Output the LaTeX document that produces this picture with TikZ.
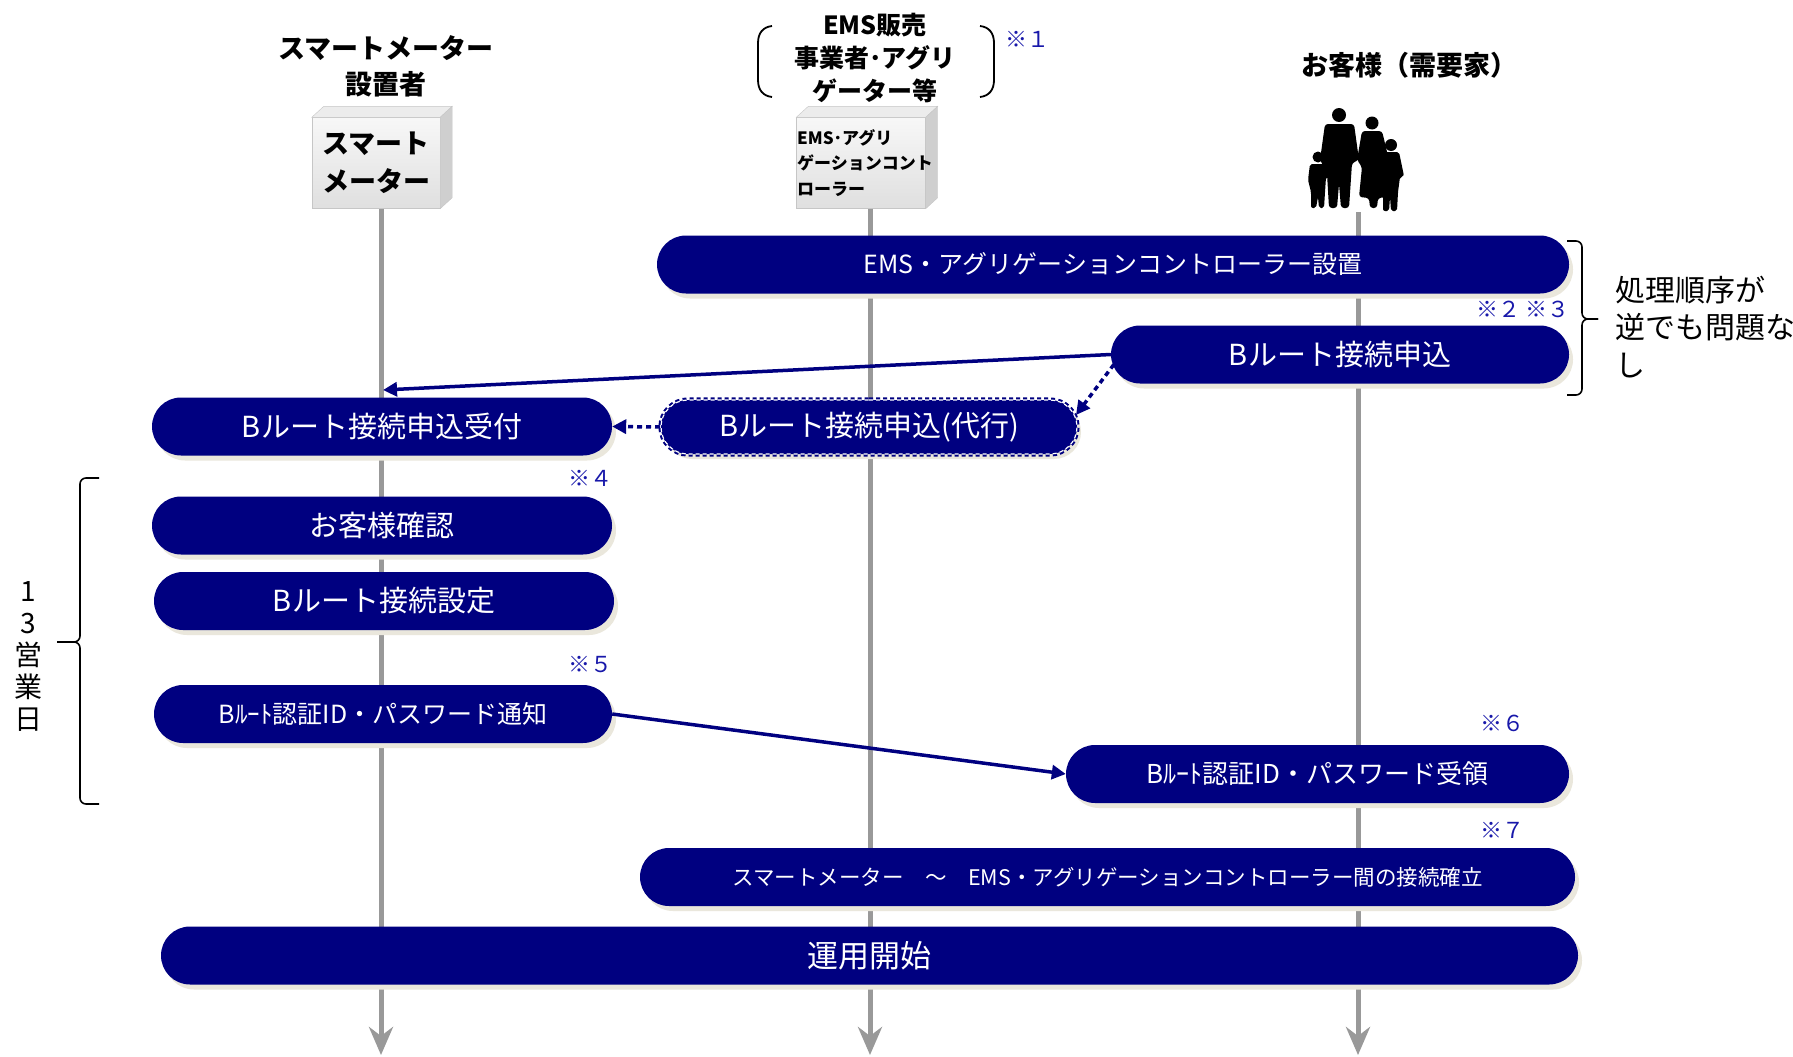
\documentclass[tikz,border=0pt]{standalone}
\usepackage{fontspec}
\setmainfont{Noto Sans CJK JP}
\usetikzlibrary{positioning,arrows.meta,calc,shapes.misc,shadows}

\definecolor{pillnavy}{RGB}{0,0,128}
\definecolor{shadowbeige}{RGB}{234,231,220}
\definecolor{notecol}{RGB}{24,24,170}
\definecolor{lifegray}{RGB}{153,153,153}
\newcommand{\sz}[2]{\fontsize{#1}{#2}\selectfont}

\begin{document}
\begin{tikzpicture}[x=1pt,y=-1pt,
  pill/.style={rounded rectangle, fill=pillnavy, text=white, minimum height=58pt, inner sep=0pt,
    drop shadow={shadow xshift=4pt, shadow yshift=-5pt, fill=shadowbeige, opacity=1}},
  proxyedge/.style={draw=pillnavy, line width=2pt, double=white, double distance=1.2pt, dash pattern=on 4pt off 3pt},
  note/.style={text=notecol, font=\sz{22}{22}, anchor=east, inner sep=0pt},
  life/.style={draw=lifegray, line width=5pt, -{Stealth[length=28pt,width=24pt,inset=9pt]}},
  msg/.style={draw=pillnavy, line width=3.5pt, -{Triangle[length=14pt,width=14pt]}},
  dotmsg/.style={msg, dash pattern=on 5pt off 4pt},
  cubefront/.style={draw=gray!45, top color=gray!6, bottom color=gray!25, inner sep=0pt},
  head/.style={font=\bfseries\sz{27}{36}, align=center, inner sep=0pt},
  brace/.style={line width=1.6pt, rounded corners=6pt}]

  \fill[white](0,0) rectangle (1793,1057);
  \useasboundingbox (0,0) rectangle (1793,1057);

  \node[head] (meterhead) at (386,66) {スマートメーター\\設置者};
  \node[head, font=\bfseries\sz{25}{33}] (emshead) at (875,58) {EMS販売\\事業者･アグリ\\ゲーター等};
  \node[head] (custhead) at (1409,65) {お客様（需要家）};
  \node[note] (n1) at (1050,39) {※１};
  \draw[line width=1.8pt] (772,26) .. controls (763,27) and (758,33) .. (758,43) -- (758,80) .. controls (758,90) and (763,96) .. (772,97);
  \draw[line width=1.8pt] (980,26) .. controls (989,27) and (994,33) .. (994,43) -- (994,80) .. controls (994,90) and (989,96) .. (980,97);

  % cubes
  \node[cubefront, minimum width=128pt, minimum height=91pt] (meter) at (376,163) {};
  \fill[gray!15, draw=gray!45] (meter.north west) -- ++(12,-11) -- ($(meter.north east)+(12,-11)$) -- (meter.north east) -- cycle;
  \fill[gray!38, draw=gray!45] (meter.north east) -- ++(12,-11) -- ($(meter.south east)+(12,-11)$) -- (meter.south east) -- cycle;
  \node[font=\bfseries\sz{27}{38}, align=center] (metertxt) at (meter.center) {スマート\\メーター};

  \node[cubefront, minimum width=129pt, minimum height=91pt] (ems) at (861,163) {};
  \fill[gray!15, draw=gray!45] (ems.north west) -- ++(12,-11) -- ($(ems.north east)+(12,-11)$) -- (ems.north east) -- cycle;
  \fill[gray!38, draw=gray!45] (ems.north east) -- ++(12,-11) -- ($(ems.south east)+(12,-11)$) -- (ems.south east) -- cycle;
  \node[font=\bfseries\sz{17}{25.5}, align=left, anchor=west, inner sep=0pt] (emstxt) at (797,163) {EMS･アグリ\\ゲーションコント\\ローラー};

  % family
  \fill (1339,115) circle (7);
  \fill[rounded corners=3pt] (1325,124) -- (1354,124) -- (1359,160) -- (1352,163) -- (1351,178) -- (1349,208) -- (1341,208) -- (1339,184) -- (1337,208) -- (1329,208) -- (1327,174) -- (1324,167) -- (1320,160) -- cycle;
  \fill (1372,123) circle (6.5);
  \fill[rounded corners=3pt] (1362,131) -- (1382,131) -- (1389,160) -- (1384,163) -- (1388,197) -- (1378,198) -- (1377,208) -- (1370,208) -- (1369,198) -- (1359,197) -- (1362,167) -- (1357,160) -- cycle;
  \fill (1318,157) circle (5.5);
  \fill[rounded corners=2pt] (1310,164) -- (1327,164) -- (1330,176) -- (1326,177) -- (1325,192) -- (1324,208) -- (1319,208) -- (1318,197) -- (1316,208) -- (1311,208) -- (1311,192) -- (1308,180) -- cycle;
  \fill (1391,145) circle (6);
  \fill[rounded corners=2pt] (1382,152) -- (1399,152) -- (1404,176) -- (1400,177) -- (1398,192) -- (1397,211) -- (1391,211) -- (1390,197) -- (1389,211) -- (1383,211) -- (1383,192) -- (1380,178) -- (1383,160) -- cycle;

  \coordinate (family) at (1358,212);
  \coordinate (meterend) at (381,1055);
  \coordinate (emsend) at (870,1055);
  \coordinate (custend) at (1358,1055);
  \draw[life] (meter.south -| meterend) -- (meterend);
  \draw[life] (ems.south -| emsend) -- (emsend);
  \draw[life] (family) -- (custend);

  \node[pill, minimum width=912pt, font=\sz{25}{25}] (install) at (1113,264.5) {EMS・アグリゲーションコントローラー設置};
  \node[note] (n23) at (1570,309) {※２ ※３};
  \node[pill, minimum width=458pt, font=\sz{29}{29}] (apply) at (1340,354.5) {Bルート接続申込};
  \node[pill, minimum width=460pt, font=\sz{29}{29}] (accept) at (382,426.5) {Bルート接続申込受付};
  \node[pill, proxyedge, minimum width=416pt, minimum height=54pt, font=\sz{29}{29}] (proxy) at (869,427) {Bルート接続申込(代行)};
  \node[note] (n4) at (613,478) {※４};
  \node[pill, minimum width=460pt, font=\sz{29}{29}] (verify) at (382,525.5) {お客様確認};
  \node[pill, minimum width=460pt, font=\sz{29}{29}] (setup) at (384,601) {Bルート接続設定};
  \node[note] (n5) at (613,664) {※５};
  \node[pill, minimum width=458pt, font=\sz{25}{25}] (notify) at (383,714) {Bﾙｰﾄ認証ID・パスワード通知};
  \node[note] (n6) at (1525,723) {※６};
  \node[pill, minimum width=503pt, font=\sz{26}{26}] (receive) at (1317.5,774) {Bﾙｰﾄ認証ID・パスワード受領};
  \node[note] (n7) at (1525,830) {※７};
  \node[pill, minimum width=935pt, font=\sz{21.5}{21.5}] (link) at (1107.5,877) {スマートメーター　～　EMS・アグリゲーションコントローラー間の接続確立};
  \node[pill, minimum width=1417pt, font=\sz{31}{31}] (start) at (869.5,955.5) {運用開始};

  \coordinate (meterhit) at (383,390);
  \draw[msg] (apply.west) -- (meterhit);
  \draw[dotmsg] ($(apply.west)+(3,10)$) -- ($(proxy.east)+(-2,-12)$);
  \draw[dotmsg] (proxy.west) -- (accept.east);
  \draw[msg] (notify.east) -- (receive.west);

  % braces
  \draw[brace] (1567,241) -- (1582,241) -- (1582,319) -- (1598,319);
  \draw[brace] (1567,395) -- (1582,395) -- (1582,319) -- (1598,319);
  \node[anchor=west, align=left, font=\sz{30}{37.5}, inner sep=0pt] (order) at (1615,327) {処理順序が\\逆でも問題な\\し};
  \draw[brace] (99,478) -- (80,478) -- (80,642) -- (57,642);
  \draw[brace] (99,804) -- (80,804) -- (80,642) -- (57,642);
  \node[align=center, font=\sz{28}{32}, inner sep=0pt] (days) at (28,656) {1\\3\\営\\業\\日};
\end{tikzpicture}
\end{document}
